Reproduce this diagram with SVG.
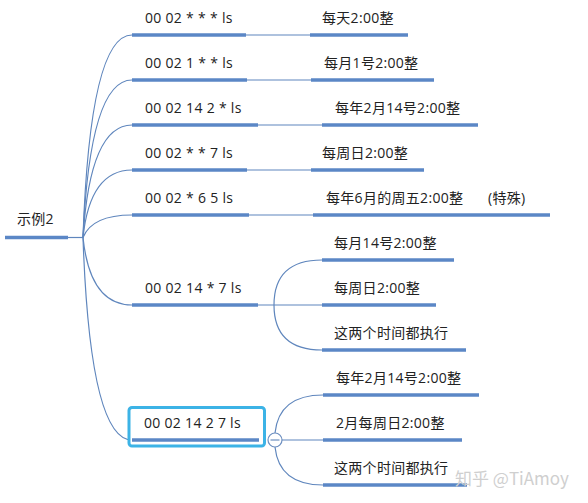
<svg xmlns="http://www.w3.org/2000/svg" width="588" height="503" viewBox="0 0 588 503">
<style>
.t{font-family:"Open Sans","Noto Sans CJK SC","Noto Sans",sans-serif;font-size:14px;fill:#222;letter-spacing:0.3px}
.u{stroke:#5b87c6;stroke-width:3.5;fill:none}
.c{stroke:#5f86bd;stroke-width:1.2;fill:none}
.wm{font-family:"Noto Sans CJK SC","Noto Sans",sans-serif;font-size:17px;fill:#cfcfcf}
</style>
<rect width="588" height="503" fill="#fff"/>
<g id="connectors">
<path class="c" d="M68,237.5 H83"/>
<path class="c" d="M83,237.5 Q90,35 132,35"/>
<path class="c" d="M83,237.5 Q90,80 132,80"/>
<path class="c" d="M83,237.5 Q90,125 132,125"/>
<path class="c" d="M83,237.5 Q90,170 132,170"/>
<path class="c" d="M83,237.5 Q92,215 132,215"/>
<path class="c" d="M83,237.5 Q90,305 132,305"/>
<path class="c" d="M83,237.5 Q90,440 132,440"/>
<path class="c" d="M246,35 H310"/>
<path class="c" d="M247,80 H311"/>
<path class="c" d="M258,125 H322"/>
<path class="c" d="M247,170 H311"/>
<path class="c" d="M249,215 H313"/>
<path class="c" d="M258,305 H322"/>
<path class="c" d="M274,305 Q274,260 322,260"/>
<path class="c" d="M274,305 Q274,350 322,350"/>
<path class="c" d="M282,440 H323"/>
<path class="c" d="M275,433 Q279,395 323,395"/>
<path class="c" d="M275,447 Q279,485 323,485"/>
</g>
<g id="root"><text class="t" x="17" y="224">示例2</text><path class="u" d="M5,237.5 H68"/></g>
<g id="n1"><text class="t" x="145" y="23">00 02 * * * ls</text><path class="u" d="M132,35 H246"/></g>
<g id="n1a"><text class="t" x="322" y="23">每天2:00整</text><path class="u" d="M310,35 H408"/></g>
<g id="n2"><text class="t" x="145" y="68">00 02 1 * * ls</text><path class="u" d="M132,80 H247"/></g>
<g id="n2a"><text class="t" x="324" y="68">每月1号2:00整</text><path class="u" d="M311,80 H434"/></g>
<g id="n3"><text class="t" x="145" y="113">00 02 14 2 * ls</text><path class="u" d="M132,125 H258"/></g>
<g id="n3a"><text class="t" x="335" y="113">每年2月14号2:00整</text><path class="u" d="M322,125 H478"/></g>
<g id="n4"><text class="t" x="145" y="158">00 02 * * 7 ls</text><path class="u" d="M132,170 H247"/></g>
<g id="n4a"><text class="t" x="322" y="158">每周日2:00整</text><path class="u" d="M311,170 H424"/></g>
<g id="n5"><text class="t" x="145" y="203">00 02 * 6 5 ls</text><path class="u" d="M132,215 H249"/></g>
<g id="n5a"><text class="t" x="326" y="203">每年6月的周五2:00整<tspan x="488">(特殊)</tspan></text><path class="u" d="M313,215 H550"/></g>
<g id="n6"><text class="t" x="145" y="293">00 02 14 * 7 ls</text><path class="u" d="M132,305 H258"/></g>
<g id="n6a"><text class="t" x="334" y="248">每月14号2:00整</text><path class="u" d="M322,260 H454"/></g>
<g id="n6b"><text class="t" x="334" y="293">每周日2:00整</text><path class="u" d="M322,305 H436"/></g>
<g id="n6c"><text class="t" x="334" y="338">这两个时间都执行</text><path class="u" d="M322,350 H466"/></g>
<g id="n7"><rect x="129" y="407.5" width="135.5" height="38.5" rx="3" fill="#fff" stroke="#3cb3e6" stroke-width="3"/><text class="t" x="144" y="428">00 02 14 2 7 ls</text><path class="u" d="M132,440 H259"/>
<circle cx="275" cy="440" r="7" fill="#fff" stroke="#6d8fc0" stroke-width="1.2"/><path d="M270.5,440 H279.5" stroke="#6d8fc0" stroke-width="1.2"/></g>
<g id="n7a"><text class="t" x="336" y="383">每年2月14号2:00整</text><path class="u" d="M323,395 H479"/></g>
<g id="n7b"><text class="t" x="336" y="428">2月每周日2:00整</text><path class="u" d="M323,440 H462"/></g>
<g id="n7c"><text class="t" x="334" y="473">这两个时间都执行</text><path class="u" d="M323,485 H467"/></g>
<text class="wm" x="455" y="485">知乎 @TiAmoy</text>
</svg>
